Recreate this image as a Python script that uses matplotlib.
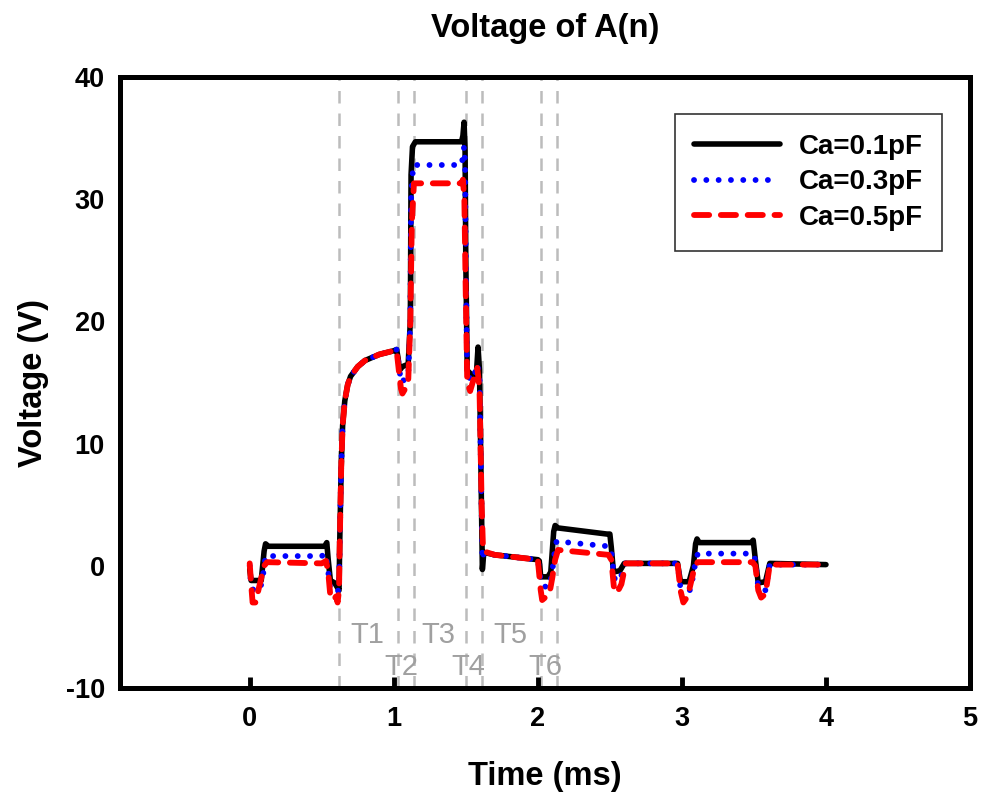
import matplotlib
matplotlib.use("Agg")
import matplotlib.pyplot as plt

plt.rcParams['font.family'] = ['Liberation Sans', 'DejaVu Sans']

# ---- data ----
t_black = [0.00, 0.01, 0.08, 0.10, 0.11, 0.13, 0.52, 0.535, 0.545, 0.56, 0.59, 0.61, 0.62,
           0.625, 0.635, 0.645, 0.66, 0.68, 0.70, 0.75, 0.80, 0.90, 1.00, 1.02,
           1.03, 1.04, 1.06, 1.10, 1.115, 1.12, 1.13, 1.15, 1.47, 1.48, 1.488, 1.495, 1.50, 1.51,
           1.55, 1.575, 1.585, 1.595, 1.605, 1.615, 1.625, 1.70, 2.00, 2.01, 2.02, 2.07, 2.09,
           2.11, 2.12, 2.14, 2.48, 2.50, 2.51, 2.525, 2.57, 2.60, 2.97, 2.99, 3.05, 3.08,
           3.095, 3.105, 3.12, 3.48, 3.495, 3.51, 3.53, 3.58, 3.61, 4.00]
v_black = [-0.3, -1.2, -1.2, 1.2, 1.8, 1.6, 1.6, 1.9, 0.5, -1.2, -1.4, -1.8, -2.0,
           2.0, 8.0, 11.5, 13.5, 14.8, 15.5, 16.3, 16.8, 17.3, 17.6, 17.7,
           17.0, 16.0, 16.3, 16.5, 20.0, 32.0, 34.3, 34.7, 34.7, 35.2, 36.3, 34.0, 25.0, 16.0,
           15.5, 16.0, 17.9, 16.0, 8.0, -0.3, 1.1, 0.9, 0.5, 0.4, -0.9, -0.9, -0.5,
           2.8, 3.3, 3.1, 2.6, 2.6, 1.5, -0.5, -0.4, 0.2, 0.2, -1.3, -1.3, 0.0,
           1.8, 2.2, 1.9, 1.9, 2.1, 0.5, -1.4, -1.3, 0.2, 0.1]

t_blue = [0.00, 0.01, 0.03, 0.07, 0.09, 0.11, 0.50, 0.53, 0.545, 0.56, 0.60, 0.62,
          0.625, 0.635, 0.645, 0.66, 0.68, 0.70, 0.75, 0.80, 0.90, 1.00, 1.02,
          1.035, 1.05, 1.07, 1.10, 1.115, 1.12, 1.135, 1.47, 1.48, 1.488, 1.495, 1.50, 1.51,
          1.55, 1.58, 1.595, 1.605, 1.615, 1.625, 1.70, 2.00, 2.02, 2.04, 2.08, 2.10,
          2.12, 2.13, 2.49, 2.51, 2.53, 2.56, 2.59, 2.61, 2.97, 2.99, 3.06, 3.09,
          3.11, 3.49, 3.51, 3.53, 3.58, 3.61, 4.00]
v_blue = [0.0, -1.8, -2.0, -2.0, -1.0, 0.8, 0.8, 1.0, -0.5, -2.0, -2.1, -2.0,
          2.0, 8.0, 11.5, 13.5, 14.8, 15.5, 16.3, 16.8, 17.3, 17.6, 17.7,
          16.5, 15.0, 15.2, 15.5, 20.0, 30.0, 32.8, 32.8, 33.5, 34.3, 33.0, 25.0, 15.5,
          15.2, 16.5, 15.5, 8.0, 0.5, 1.1, 0.9, 0.5, -1.2, -1.7, -1.7, -0.5,
          1.5, 2.0, 1.6, 1.2, -1.0, -1.3, -0.5, 0.2, 0.2, -1.8, -2.0, 0.0,
          1.0, 1.0, 0.5, -1.8, -2.0, 0.1, 0.1]

t_red = [0.00, 0.01, 0.02, 0.04, 0.06, 0.08, 0.10, 0.12, 0.50, 0.53, 0.545, 0.56, 0.58, 0.60,
         0.61, 0.62, 0.625, 0.635, 0.645, 0.66, 0.68, 0.70, 0.75, 0.80, 0.90, 1.00, 1.02,
         1.035, 1.05, 1.06, 1.08, 1.10, 1.115, 1.125, 1.14, 1.47, 1.48, 1.49, 1.50, 1.51,
         1.53, 1.56, 1.58, 1.595, 1.61, 1.62, 1.70, 2.00, 2.02, 2.03, 2.06, 2.08, 2.10,
         2.12, 2.14, 2.49, 2.51, 2.53, 2.55, 2.58, 2.61, 2.97, 2.99, 3.01, 3.04, 3.06,
         3.09, 3.11, 3.49, 3.51, 3.53, 3.55, 3.58, 3.61, 4.00]
v_red = [0.2, -1.5, -3.0, -3.0, -2.0, -1.0, 0.0, 0.3, 0.2, 0.4, -0.5, -2.5, -2.8, -2.5,
         -3.0, -2.0, 2.0, 8.0, 11.5, 13.5, 14.8, 15.5, 16.3, 16.8, 17.3, 17.6, 17.6,
         16.0, 14.5, 14.1, 14.5, 15.0, 20.0, 28.0, 31.3, 31.3, 31.6, 30.0, 22.0, 15.0,
         14.3, 15.5, 16.2, 14.5, 5.0, 1.2, 0.9, 0.5, -2.0, -2.8, -2.5, -2.3, -1.0,
         0.5, 1.3, 0.9, 0.5, -2.0, -2.2, -1.5, 0.2, 0.2, -2.0, -3.0, -2.5, -1.5,
         0.0, 0.3, 0.3, 0.0, -2.0, -2.6, -2.3, 0.1, 0.1]

labels = ['Ca=0.1pF', 'Ca=0.3pF', 'Ca=0.5pF']
marker_times = [0.62, 1.03, 1.14, 1.50, 1.61, 2.02, 2.13]
phase_labels = ['T1', 'T2', 'T3', 'T4', 'T5', 'T6']
phase_x = [0.815, 1.055, 1.31, 1.52, 1.81, 2.05]
phase_y = [-5.66, -8.28, -5.66, -8.28, -5.66, -8.28]
xticks = [0, 1, 2, 3, 4, 5]
yticks = [-10, 0, 10, 20, 30, 40]

fig = plt.figure(figsize=(9.84, 7.98), dpi=100)
ax = fig.add_axes([0.1220, 0.1378, 0.8638, 0.7657])

for xv in marker_times:
    ax.axvline(xv, color='#bcbcbc', lw=1.8, ls=(0, (5, 4)), zorder=1)

for lab, xv, yv in zip(phase_labels, phase_x, phase_y):
    ax.text(xv, yv, lab, color='#a0a0a0', fontsize=21, ha='center', va='center', zorder=2)

ax.plot(t_black, v_black, color='black', lw=4, solid_capstyle='round',
        solid_joinstyle='round', label=labels[0], zorder=3)
ax.plot(t_blue, v_blue, color='#0000ff', lw=4.2, ls=(0, (0.01, 2.1)),
        dash_capstyle='round', label=labels[1], zorder=4)
ax.plot(t_red, v_red, color='#ff0000', lw=4.2, ls=(0, (2.6, 2.0)),
        dash_capstyle='round', label=labels[2], zorder=5)

ax.set_xlim(-0.9, 5)
ax.set_ylim(-10, 40)
ax.set_xticks(xticks)
ax.set_yticks(yticks)
ax.set_xticklabels([str(v) for v in xticks], fontsize=19.5, fontweight='bold')
ax.set_yticklabels([str(v) for v in yticks], fontsize=19.5, fontweight='bold')
ax.tick_params(axis='x', direction='in', length=8, width=3.5, pad=13)
ax.tick_params(axis='y', length=0, pad=11)
for s in ax.spines.values():
    s.set_linewidth(3.6)
    s.set_capstyle('projecting')

ax.set_title('Voltage of A(n)', fontsize=23.5, fontweight='bold', pad=29)
ax.set_xlabel('Time (ms)', fontsize=23.5, fontweight='bold', labelpad=21)
ax.set_ylabel('Voltage (V)', fontsize=23.5, fontweight='bold', labelpad=12)

leg = ax.legend(loc='upper right', bbox_to_anchor=(0.967, 0.939),
                prop={'weight': 'bold', 'size': 20}, frameon=True, fancybox=False,
                edgecolor='black', handlelength=3.1, handletextpad=0.65,
                borderpad=0.7, labelspacing=0.35, borderaxespad=0)
leg.get_frame().set_linewidth(1.2)

fig.savefig('out.png', dpi=100)
